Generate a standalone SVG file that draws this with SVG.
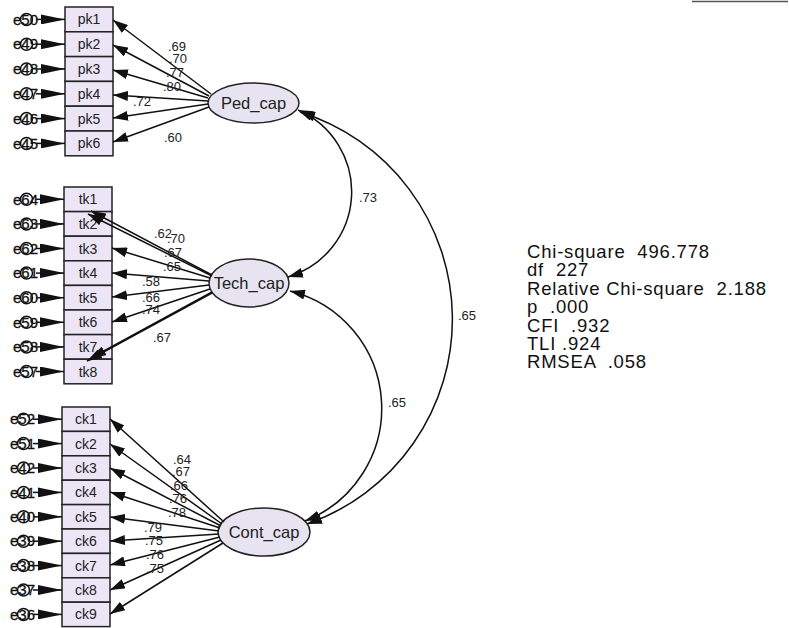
<svg xmlns="http://www.w3.org/2000/svg" width="789" height="628" viewBox="0 0 789 628">
<style>
.box{fill:#ebe5f5;stroke:#222;stroke-width:1.5}
.lat{fill:#e8e3f0;stroke:#222;stroke-width:1.5}
.bt{font-family:"Liberation Sans",Arial,sans-serif;font-size:14px;fill:#222;text-anchor:middle}
.lt{font-family:"Liberation Sans",Arial,sans-serif;font-size:16.5px;fill:#222;text-anchor:middle}
.et{font-family:"Liberation Sans",Arial,sans-serif;font-size:15px;fill:#111;stroke:#111;stroke-width:0.3}
.ec{fill:none;stroke:#111;stroke-width:1.5}
.w{font-family:"Liberation Sans",Arial,sans-serif;font-size:13px;fill:#222;text-anchor:middle}
.st{font-family:"Liberation Sans",Arial,sans-serif;font-size:18.5px;letter-spacing:0.8px;fill:#111;white-space:pre}
.m{stroke:#111;stroke-width:1.5;fill:none;marker-end:url(#ah)}
.e{stroke:#111;stroke-width:1.5;marker-end:url(#eh)}
.c{stroke:#111;stroke-width:1.5;fill:none;marker-start:url(#ah);marker-end:url(#ah)}
</style>
<defs>
<marker id="ah" markerUnits="userSpaceOnUse" markerWidth="16" markerHeight="10" refX="15" refY="5" orient="auto-start-reverse"><path d="M0,0 L15,5 L0,10 z" fill="#111"/></marker>
<marker id="eh" markerUnits="userSpaceOnUse" markerWidth="25" markerHeight="10" refX="24" refY="5" orient="auto"><path d="M0,0 L24,5 L0,10 z" fill="#111"/></marker>
</defs>
<rect width="789" height="628" fill="#fff"/>
<line x1="692" y1="1.5" x2="788" y2="1.5" stroke="#555" stroke-width="1.5"/>

<g id="Ped_cap"><ellipse class="lat" cx="253.5" cy="103" rx="45.5" ry="20"/><text class="lt" x="253.5" y="109">Ped_cap</text></g>
<g id="Tech_cap"><ellipse class="lat" cx="249" cy="283" rx="40" ry="24"/><text class="lt" x="249" y="289">Tech_cap</text></g>
<g id="Cont_cap"><ellipse class="lat" cx="264" cy="532" rx="46" ry="24"/><text class="lt" x="264" y="538">Cont_cap</text></g>

<g id="pk1"><rect class="box" x="65" y="7" width="48" height="24.8"/><text class="bt" x="89" y="24.4">pk1</text></g>
<g id="pk2"><rect class="box" x="65" y="31.8" width="48" height="24.8"/><text class="bt" x="89" y="49.2">pk2</text></g>
<g id="pk3"><rect class="box" x="65" y="56.6" width="48" height="24.8"/><text class="bt" x="89" y="74">pk3</text></g>
<g id="pk4"><rect class="box" x="65" y="81.4" width="48" height="24.8"/><text class="bt" x="89" y="98.8">pk4</text></g>
<g id="pk5"><rect class="box" x="65" y="106.2" width="48" height="24.8"/><text class="bt" x="89" y="123.6">pk5</text></g>
<g id="pk6"><rect class="box" x="65" y="131" width="48" height="24.8"/><text class="bt" x="89" y="148.4">pk6</text></g>

<g id="tk1"><rect class="box" x="64" y="187" width="48" height="24.6"/><text class="bt" x="88" y="204.3">tk1</text></g>
<g id="tk2"><rect class="box" x="64" y="211.6" width="48" height="24.6"/><text class="bt" x="88" y="228.9">tk2</text></g>
<g id="tk3"><rect class="box" x="64" y="236.2" width="48" height="24.6"/><text class="bt" x="88" y="253.5">tk3</text></g>
<g id="tk4"><rect class="box" x="64" y="260.8" width="48" height="24.6"/><text class="bt" x="88" y="278.1">tk4</text></g>
<g id="tk5"><rect class="box" x="64" y="285.4" width="48" height="24.6"/><text class="bt" x="88" y="302.7">tk5</text></g>
<g id="tk6"><rect class="box" x="64" y="310" width="48" height="24.6"/><text class="bt" x="88" y="327.3">tk6</text></g>
<g id="tk7"><rect class="box" x="64" y="334.6" width="48" height="24.6"/><text class="bt" x="88" y="351.9">tk7</text></g>
<g id="tk8"><rect class="box" x="64" y="359.2" width="48" height="24.6"/><text class="bt" x="88" y="376.5">tk8</text></g>

<g id="ck1"><rect class="box" x="62" y="407" width="48" height="24.4"/><text class="bt" x="86" y="424.2">ck1</text></g>
<g id="ck2"><rect class="box" x="62" y="431.4" width="48" height="24.4"/><text class="bt" x="86" y="448.6">ck2</text></g>
<g id="ck3"><rect class="box" x="62" y="455.8" width="48" height="24.4"/><text class="bt" x="86" y="473">ck3</text></g>
<g id="ck4"><rect class="box" x="62" y="480.2" width="48" height="24.4"/><text class="bt" x="86" y="497.4">ck4</text></g>
<g id="ck5"><rect class="box" x="62" y="504.6" width="48" height="24.4"/><text class="bt" x="86" y="521.8">ck5</text></g>
<g id="ck6"><rect class="box" x="62" y="529" width="48" height="24.4"/><text class="bt" x="86" y="546.2">ck6</text></g>
<g id="ck7"><rect class="box" x="62" y="553.4" width="48" height="24.4"/><text class="bt" x="86" y="570.6">ck7</text></g>
<g id="ck8"><rect class="box" x="62" y="577.8" width="48" height="24.4"/><text class="bt" x="86" y="595">ck8</text></g>
<g id="ck9"><rect class="box" x="62" y="602.2" width="48" height="24.4"/><text class="bt" x="86" y="619.4">ck9</text></g>

<g id="errors">
<g id="e50"><circle class="ec" cx="26.5" cy="19.4" r="6"/><text class="et" x="13" y="24.6">e50</text></g>
<g id="e49"><circle class="ec" cx="26.5" cy="44.2" r="6"/><text class="et" x="13" y="49.4">e49</text></g>
<g id="e48"><circle class="ec" cx="26.5" cy="69" r="6"/><text class="et" x="13" y="74.2">e48</text></g>
<g id="e47"><circle class="ec" cx="26.5" cy="93.8" r="6"/><text class="et" x="13" y="99">e47</text></g>
<g id="e46"><circle class="ec" cx="26.5" cy="118.6" r="6"/><text class="et" x="13" y="123.8">e46</text></g>
<g id="e45"><circle class="ec" cx="26.5" cy="143.4" r="6"/><text class="et" x="13" y="148.6">e45</text></g>
<g id="e64"><circle class="ec" cx="26.5" cy="199.3" r="6"/><text class="et" x="13" y="204.5">e64</text></g>
<g id="e63"><circle class="ec" cx="26.5" cy="223.9" r="6"/><text class="et" x="13" y="229.1">e63</text></g>
<g id="e62"><circle class="ec" cx="26.5" cy="248.5" r="6"/><text class="et" x="13" y="253.7">e62</text></g>
<g id="e61"><circle class="ec" cx="26.5" cy="273.1" r="6"/><text class="et" x="13" y="278.3">e61</text></g>
<g id="e60"><circle class="ec" cx="26.5" cy="297.7" r="6"/><text class="et" x="13" y="302.9">e60</text></g>
<g id="e59"><circle class="ec" cx="26.5" cy="322.3" r="6"/><text class="et" x="13" y="327.5">e59</text></g>
<g id="e58"><circle class="ec" cx="26.5" cy="346.9" r="6"/><text class="et" x="13" y="352.1">e58</text></g>
<g id="e57"><circle class="ec" cx="26.5" cy="371.5" r="6"/><text class="et" x="13" y="376.7">e57</text></g>
<g id="e52"><circle class="ec" cx="23.5" cy="419.2" r="6"/><text class="et" x="10" y="424.4">e52</text></g>
<g id="e51"><circle class="ec" cx="23.5" cy="443.6" r="6"/><text class="et" x="10" y="448.8">e51</text></g>
<g id="e42"><circle class="ec" cx="23.5" cy="468" r="6"/><text class="et" x="10" y="473.2">e42</text></g>
<g id="e41"><circle class="ec" cx="23.5" cy="492.4" r="6"/><text class="et" x="10" y="497.6">e41</text></g>
<g id="e40"><circle class="ec" cx="23.5" cy="516.8" r="6"/><text class="et" x="10" y="522">e40</text></g>
<g id="e39"><circle class="ec" cx="23.5" cy="541.2" r="6"/><text class="et" x="10" y="546.4">e39</text></g>
<g id="e38"><circle class="ec" cx="23.5" cy="565.6" r="6"/><text class="et" x="10" y="570.8">e38</text></g>
<g id="e37"><circle class="ec" cx="23.5" cy="590" r="6"/><text class="et" x="10" y="595.2">e37</text></g>
<g id="e36"><circle class="ec" cx="23.5" cy="614.4" r="6"/><text class="et" x="10" y="619.6">e36</text></g>
</g>

<g id="connectors">
<line class="e" x1="36" y1="19.4" x2="65" y2="19.4"/>
<line class="e" x1="36" y1="44.2" x2="65" y2="44.2"/>
<line class="e" x1="36" y1="69" x2="65" y2="69"/>
<line class="e" x1="36" y1="93.8" x2="65" y2="93.8"/>
<line class="e" x1="36" y1="118.6" x2="65" y2="118.6"/>
<line class="e" x1="36" y1="143.4" x2="65" y2="143.4"/>
<line class="e" x1="36" y1="199.3" x2="64" y2="199.3"/>
<line class="e" x1="36" y1="223.9" x2="64" y2="223.9"/>
<line class="e" x1="36" y1="248.5" x2="64" y2="248.5"/>
<line class="e" x1="36" y1="273.1" x2="64" y2="273.1"/>
<line class="e" x1="36" y1="297.7" x2="64" y2="297.7"/>
<line class="e" x1="36" y1="322.3" x2="64" y2="322.3"/>
<line class="e" x1="36" y1="346.9" x2="64" y2="346.9"/>
<line class="e" x1="36" y1="371.5" x2="64" y2="371.5"/>
<line class="e" x1="33" y1="419.2" x2="62" y2="419.2"/>
<line class="e" x1="33" y1="443.6" x2="62" y2="443.6"/>
<line class="e" x1="33" y1="468" x2="62" y2="468"/>
<line class="e" x1="33" y1="492.4" x2="62" y2="492.4"/>
<line class="e" x1="33" y1="516.8" x2="62" y2="516.8"/>
<line class="e" x1="33" y1="541.2" x2="62" y2="541.2"/>
<line class="e" x1="33" y1="565.6" x2="62" y2="565.6"/>
<line class="e" x1="33" y1="590" x2="62" y2="590"/>
<line class="e" x1="33" y1="614.4" x2="62" y2="614.4"/>
<line class="m" x1="211" y1="94" x2="113" y2="20"/>
<line class="m" x1="209" y1="96" x2="113" y2="45"/>
<line class="m" x1="208" y1="98" x2="113" y2="70"/>
<line class="m" x1="208" y1="101" x2="113" y2="95"/>
<line class="m" x1="208" y1="104" x2="113" y2="118"/>
<line class="m" x1="209" y1="107" x2="113" y2="142"/>
<line class="m" x1="212" y1="275" x2="91" y2="211"/>
<line class="m" x1="212" y1="276" x2="88" y2="214"/>
<line class="m" x1="210" y1="278" x2="112" y2="248"/>
<line class="m" x1="209" y1="281" x2="112" y2="273"/>
<line class="m" x1="209" y1="285" x2="112" y2="297"/>
<line class="m" x1="210" y1="289" x2="112" y2="322"/>
<line class="m" x1="212" y1="292" x2="91" y2="358"/>
<line class="m" x1="212" y1="293" x2="87" y2="361"/>
<line class="m" x1="224" y1="522" x2="110" y2="419"/>
<line class="m" x1="222" y1="524" x2="110" y2="444"/>
<line class="m" x1="221" y1="526" x2="110" y2="468"/>
<line class="m" x1="220" y1="528" x2="110" y2="492"/>
<line class="m" x1="219" y1="531" x2="110" y2="517"/>
<line class="m" x1="219" y1="534" x2="110" y2="541"/>
<line class="m" x1="220" y1="537" x2="110" y2="565"/>
<line class="m" x1="221" y1="540" x2="110" y2="590"/>
<line class="m" x1="223" y1="543" x2="110" y2="614"/>
<path class="c" d="M298,110 A89,89 0 0 1 288,277"/>
<path class="c" d="M300,112 A217,217 0 0 1 307,524"/>
<path class="c" d="M290,291 A121,121 0 0 1 305,521"/>
<g>
<text class="w" x="177" y="51">.69</text>
<text class="w" x="178" y="63">.70</text>
<text class="w" x="175" y="77">.77</text>
<text class="w" x="172" y="91">.80</text>
<text class="w" x="142" y="106">.72</text>
<text class="w" x="173" y="142">.60</text>
<text class="w" x="163" y="238">.62</text>
<text class="w" x="176" y="243">.70</text>
<text class="w" x="173" y="257">.67</text>
<text class="w" x="172" y="271">.65</text>
<text class="w" x="151" y="286">.58</text>
<text class="w" x="151" y="302">.66</text>
<text class="w" x="151" y="314">.74</text>
<text class="w" x="162" y="342">.67</text>
<text class="w" x="182" y="464">.64</text>
<text class="w" x="181" y="476">.67</text>
<text class="w" x="179" y="490">.66</text>
<text class="w" x="178" y="503">.76</text>
<text class="w" x="177" y="517">.78</text>
<text class="w" x="153" y="532">.79</text>
<text class="w" x="154" y="545">.75</text>
<text class="w" x="155" y="559">.76</text>
<text class="w" x="155" y="573">.75</text>
<text class="w" x="368" y="202">.73</text>
<text class="w" x="467" y="320">.65</text>
<text class="w" x="397" y="407">.65</text>
</g>
</g>

<g id="fit">
<text class="st" x="527" y="258" xml:space="preserve">Chi-square  496.778</text>
<text class="st" x="527" y="276.4" xml:space="preserve">df  227</text>
<text class="st" x="527" y="294.8" xml:space="preserve">Relative Chi-square  2.188</text>
<text class="st" x="527" y="313.2" xml:space="preserve">p  .000</text>
<text class="st" x="527" y="331.6" xml:space="preserve">CFI  .932</text>
<text class="st" x="527" y="350" xml:space="preserve">TLI .924</text>
<text class="st" x="527" y="368.4" xml:space="preserve">RMSEA  .058</text>
</g>
</svg>
